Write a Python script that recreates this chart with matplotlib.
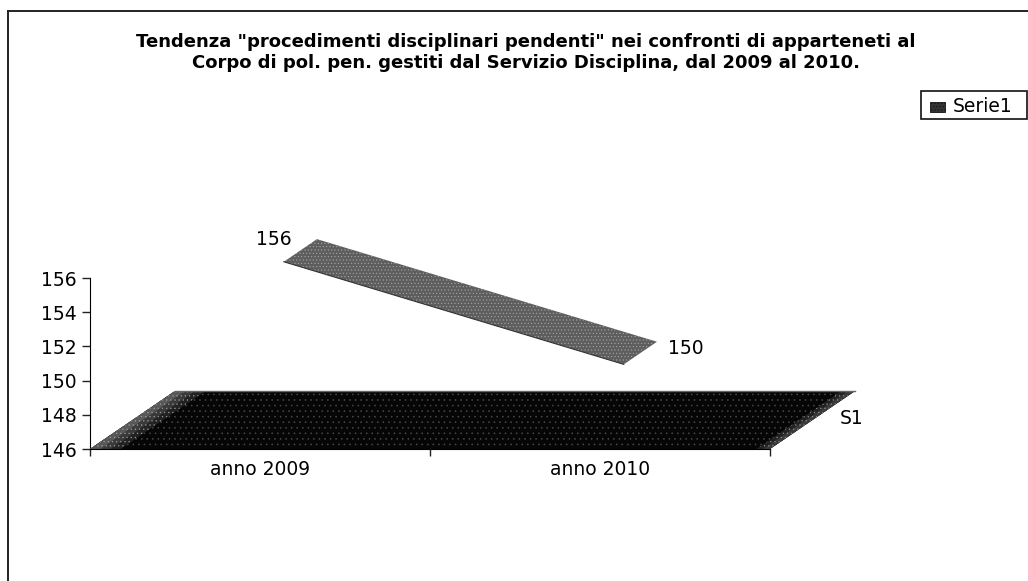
import matplotlib
matplotlib.use("Agg")
import matplotlib.pyplot as plt
from matplotlib.lines import Line2D
from matplotlib.patches import Polygon, Rectangle

categories = ["anno 2009", "anno 2010"]
values = [156, 150]
y_ticks = [146, 148, 150, 152, 154, 156]
title_lines = [
    'Tendenza "procedimenti disciplinari pendenti" nei confronti di apparteneti al',
    "Corpo di pol. pen. gestiti dal Servizio Disciplina, dal 2009 al 2010.",
]
series_name = "Serie1"
depth_name = "S1"

W, H = 1028, 581
FS = 13.5

plt.rcParams["font.family"] = ["DejaVu Sans"]
plt.rcParams["hatch.linewidth"] = 0.4

fig = plt.figure(figsize=(W / 100, H / 100), dpi=100)
ax = fig.add_axes([90 / W, 1 - 449 / H, 680 / W, 171 / H])
ax.set_xlim(-0.5, 1.5)
ax.set_ylim(146, 156)
ax.patch.set_visible(False)

# oblique projection of the depth axis, in data units
DEPTH_X = 85 / 340
DEPTH_Y = 58 / 17.1


def project(x, y, d):
    return (x + d * DEPTH_X, y + d * DEPTH_Y)


def face(points, fc, hatch=None, hatch_color="#bdbdbd", z=2):
    poly = Polygon(
        [project(*p) for p in points],
        closed=True,
        facecolor=fc,
        edgecolor=hatch_color if hatch else fc,
        hatch=hatch,
        linewidth=0,
        clip_on=False,
        zorder=z,
    )
    ax.add_patch(poly)


# floor of the 3D chart
x0, x1 = ax.get_xlim()
base = y_ticks[0]
face([(x0, base, 0), (x1, base, 0), (x1, base, 1), (x0, base, 1)], "#060606", "...", "#4a4a4a")
# stippled bands that fade out from both ends of the floor
for w, fc in [(0.09, "#222222"), (0.06, "#3a3a3a"), (0.03, "#585858")]:
    face([(x0, base, 0), (x0 + w, base, 0), (x0 + w, base, 1), (x0, base, 1)], fc, "....", "#9a9a9a", z=3)
for w, fc in [(0.04, "#222222"), (0.02, "#3a3a3a")]:
    face([(x1 - w, base, 0), (x1, base, 0), (x1, base, 1), (x1 - w, base, 1)], fc, "....", "#8a8a8a", z=3)
ax.plot(*zip(project(x0, base, 1), project(x1, base, 1)), color="#666666", lw=1, clip_on=False, zorder=4)

# ribbon between the two values
front, back = 0.28, 0.67
xs = list(range(len(values)))
ribbon = [(xs[0], values[0], front), (xs[1], values[1], front), (xs[1], values[1], back), (xs[0], values[0], back)]
face(ribbon, "#5e5e5e", ".....", "#a5a5a5", z=5)
ax.plot(*zip(*[project(*p) for p in ribbon[:2]]), color="#333333", lw=0.8, clip_on=False, zorder=6)

# value labels
ax.annotate(str(values[0]), (xs[0], values[0]), xytext=(274 / W, 1 - 240 / H), textcoords="figure fraction",
            fontsize=FS, ha="center", va="center", annotation_clip=False)
ax.annotate(str(values[1]), (xs[1], values[1]), xytext=(686 / W, 1 - 348 / H), textcoords="figure fraction",
            fontsize=FS, ha="center", va="center", annotation_clip=False)
fig.text(852 / W, 1 - 419 / H, depth_name, fontsize=FS, ha="center", va="center")

ax.set_xticks([x0, 0.5, x1])
ax.set_xticklabels([])
for x, name in zip(xs, categories):
    ax.text(x, base - 1.2, name, fontsize=FS, ha="center", va="center")
ax.set_yticks(y_ticks)
ax.tick_params(axis="y", length=5.8, width=1, labelsize=FS, pad=3.5, color="#222222")
ax.tick_params(axis="x", length=5, width=1, direction="out", color="#222222")
for side in ["top", "right"]:
    ax.spines[side].set_visible(False)
ax.spines["bottom"].set_zorder(7)

# outer frame of the chart area
fig.add_artist(Line2D([8 / W, 8 / W], [0, 1 - 11 / H], color="#222222", lw=1.4))
fig.add_artist(Line2D([8 / W, 1], [1 - 11 / H, 1 - 11 / H], color="#222222", lw=1.4))

# title
for line, y in zip(title_lines, [42, 63]):
    fig.text(526 / W, 1 - y / H, line, fontsize=13, fontweight="bold", ha="center", va="center")

# legend
fig.add_artist(Rectangle((921 / W, 1 - 119 / H), 106 / W, 28 / H, transform=fig.transFigure, facecolor="white", edgecolor="#111111", lw=1.2))
fig.add_artist(Rectangle((930 / W, 1 - 112 / H), 15 / W, 10 / H, transform=fig.transFigure, facecolor="#333333", edgecolor="#111111", lw=0.6, hatch="....."))
fig.text(953 / W, 1 - 106 / H, series_name, fontsize=FS, ha="left", va="center")

fig.savefig("out.png", dpi=100)
